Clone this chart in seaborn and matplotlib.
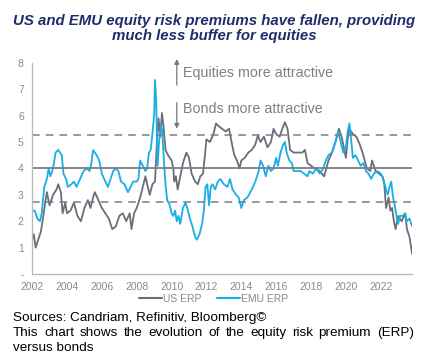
import pandas as pd
import matplotlib.pyplot as plt
import seaborn as sns

# US equity risk premium
us_years = [2002.0, 2002.1, 2002.2, 2002.35, 2002.5, 2002.6, 2002.75, 2002.85, 2003.0, 2003.2,
            2003.4, 2003.5, 2003.65, 2003.75, 2003.9, 2004.0, 2004.2, 2004.4, 2004.6, 2004.8,
            2005.0, 2005.2, 2005.35, 2005.5, 2005.6, 2005.8, 2006.0, 2006.2, 2006.4, 2006.6,
            2006.8, 2007.0, 2007.2, 2007.4, 2007.6, 2007.7, 2007.85, 2008.0, 2008.2, 2008.35,
            2008.5, 2008.6, 2008.75, 2008.9, 2009.05, 2009.15, 2009.25, 2009.35, 2009.45, 2009.55,
            2009.65, 2009.8, 2010.0, 2010.1, 2010.15, 2010.25, 2010.35, 2010.5, 2010.65, 2010.85,
            2011.0, 2011.15, 2011.35, 2011.5, 2011.65, 2011.8, 2011.9, 2012.0, 2012.2, 2012.4,
            2012.55, 2012.7, 2012.9, 2013.1, 2013.3, 2013.5, 2013.6, 2013.75, 2013.9, 2014.0,
            2014.2, 2014.4, 2014.6, 2014.8, 2014.95, 2015.1, 2015.3, 2015.5, 2015.7, 2015.85,
            2016.0, 2016.2, 2016.35, 2016.5, 2016.65, 2016.8, 2017.0, 2017.3, 2017.5, 2017.65,
            2017.8, 2018.0, 2018.2, 2018.5, 2018.75, 2019.0, 2019.2, 2019.4, 2019.6, 2019.75,
            2019.85, 2020.0, 2020.1, 2020.2, 2020.4, 2020.6, 2020.8, 2021.0, 2021.2, 2021.4,
            2021.5, 2021.7, 2021.9, 2022.1, 2022.2, 2022.3, 2022.45, 2022.55, 2022.65, 2022.75,
            2022.85, 2023.0, 2023.2, 2023.4, 2023.5, 2023.65, 2023.8]
us_erp = [1.3, 1.5, 1.0, 1.3, 1.6, 2.0, 2.7, 3.1, 2.6, 3.0,
          3.2, 3.4, 3.1, 2.3, 2.7, 2.3, 2.4, 2.7, 2.2, 2.0,
          2.5, 2.8, 2.5, 2.9, 3.1, 2.8, 2.5, 2.3, 2.1, 1.7,
          1.8, 2.2, 2.3, 2.0, 2.3, 1.7, 2.3, 2.5, 2.9, 3.3,
          3.7, 3.4, 3.0, 3.4, 3.5, 4.9, 5.9, 5.2, 6.1, 5.5,
          4.7, 4.5, 4.3, 4.0, 3.5, 3.7, 3.2, 3.7, 4.2, 4.6,
          4.4, 3.8, 3.5, 3.4, 3.7, 3.8, 4.4, 5.1, 5.0, 5.3,
          5.7, 5.6, 5.5, 5.4, 5.5, 4.8, 4.5, 4.3, 4.0, 4.3,
          4.4, 4.6, 4.7, 4.9, 5.25, 5.0, 5.2, 4.8, 5.0, 5.5,
          5.3, 5.2, 5.5, 5.75, 5.5, 4.7, 4.6, 4.6, 4.6, 4.7,
          4.2, 4.1, 4.0, 3.9, 3.7, 4.3, 4.6, 5.0, 5.5, 5.2,
          4.9, 4.4, 5.1, 5.5, 5.3, 5.2, 4.9, 4.5, 4.0, 3.9,
          4.3, 3.9, 3.8, 3.7, 3.4, 2.5, 2.9, 2.4, 2.5, 2.0,
          1.7, 2.2, 2.0, 2.3, 1.7, 1.4, 0.75]

# EMU equity risk premium
emu_years = [2002.0, 2002.15, 2002.3, 2002.45, 2002.55, 2002.7, 2002.85, 2002.95, 2003.05, 2003.2,
             2003.35, 2003.5, 2003.7, 2003.8, 2003.95, 2004.05, 2004.25, 2004.4, 2004.55, 2004.75,
             2004.95, 2005.15, 2005.3, 2005.4, 2005.5, 2005.7, 2005.85, 2006.0, 2006.2, 2006.35,
             2006.5, 2006.65, 2006.8, 2006.95, 2007.1, 2007.3, 2007.5, 2007.65, 2007.8, 2008.0,
             2008.1, 2008.2, 2008.35, 2008.5, 2008.6, 2008.7, 2008.8, 2008.9, 2009.0, 2009.05,
             2009.12, 2009.2, 2009.28, 2009.38, 2009.45, 2009.55, 2009.65, 2009.75, 2009.9, 2010.0,
             2010.1, 2010.2, 2010.3, 2010.4, 2010.5, 2010.65, 2010.8, 2010.9, 2011.05, 2011.2,
             2011.35, 2011.45, 2011.6, 2011.75, 2011.85, 2011.95, 2012.05, 2012.15, 2012.25, 2012.35,
             2012.5, 2012.65, 2012.8, 2013.0, 2013.2, 2013.35, 2013.5, 2013.7, 2013.85, 2014.0,
             2014.15, 2014.35, 2014.6, 2014.8, 2015.0, 2015.1, 2015.25, 2015.4, 2015.55, 2015.7,
             2015.85, 2016.0, 2016.1, 2016.25, 2016.4, 2016.5, 2016.6, 2016.75, 2016.9, 2017.0,
             2017.2, 2017.4, 2017.6, 2017.8, 2017.9, 2018.1, 2018.3, 2018.5, 2018.7, 2018.85,
             2019.0, 2019.2, 2019.4, 2019.55, 2019.7, 2019.85, 2020.0, 2020.1, 2020.2, 2020.3,
             2020.4, 2020.55, 2020.7, 2020.85, 2021.0, 2021.15, 2021.3, 2021.45, 2021.6, 2021.8,
             2022.0, 2022.15, 2022.3, 2022.4, 2022.5, 2022.6, 2022.7, 2022.8, 2022.9, 2023.0,
             2023.1, 2023.25, 2023.4, 2023.5, 2023.65, 2023.8]
emu_erp = [2.4, 2.4, 2.1, 2.0, 2.3, 3.3, 3.6, 4.0, 3.7, 4.0,
           4.6, 4.7, 4.5, 3.8, 3.6, 3.3, 3.4, 3.5, 3.3, 3.6,
           3.9, 4.0, 3.9, 4.2, 4.7, 4.5, 4.3, 3.8, 3.5, 3.3,
           3.6, 3.9, 4.0, 3.9, 3.5, 3.4, 3.1, 3.3, 3.5, 3.5,
           3.6, 4.3, 4.1, 3.9, 4.0, 4.6, 4.7, 5.3, 6.0, 7.35,
           6.5, 4.1, 5.0, 5.6, 5.5, 4.4, 3.4, 2.8, 2.6, 2.3,
           2.2, 2.4, 2.0, 2.2, 1.9, 2.5, 2.7, 2.5, 2.1, 1.8,
           1.4, 1.3, 1.5, 1.9, 2.4, 3.3, 3.4, 2.6, 3.3, 3.4,
           3.2, 3.5, 3.6, 3.4, 3.3, 3.6, 3.2, 3.0, 2.9, 2.5,
           2.8, 2.9, 3.2, 3.5, 3.9, 4.3, 4.1, 3.7, 4.1, 3.9,
           4.0, 4.4, 4.1, 4.6, 4.9, 5.0, 4.6, 4.3, 4.2, 3.9,
           3.9, 3.9, 3.8, 3.7, 3.9, 3.8, 4.0, 3.8, 4.0, 4.3,
           4.5, 4.6, 5.0, 5.4, 5.0, 4.6, 4.8, 5.4, 5.7, 5.1,
           4.4, 4.5, 4.3, 4.1, 4.2, 3.9, 3.8, 3.6, 3.8, 3.9,
           3.8, 3.6, 3.2, 3.0, 3.3, 3.5, 2.9, 2.6, 2.2, 1.9,
           2.2, 2.2, 2.3, 2.0, 2.1, 1.8]

mean_level = 4.0
upper_band = 5.25
lower_band = 2.72
year_ticks = list(range(2002, 2023, 2))
y_ticks = list(range(0, 9))
y_labels = ['-'] + [str(v) for v in range(1, 9)]

GREY = '#6b6e78'
BLUE = '#1aaee6'
TICK = '#8a8a8a'

df = pd.concat([
    pd.DataFrame({'year': us_years, 'erp': us_erp, 'series': 'US ERP'}),
    pd.DataFrame({'year': emu_years, 'erp': emu_erp, 'series': 'EMU ERP'}),
])

sns.set_style('white')
plt.rcParams['font.family'] = ['Liberation Sans', 'DejaVu Sans']

fig = plt.figure(figsize=(4.28, 3.61), dpi=100)
ax = fig.add_axes([0.075, 0.241, 0.888, 0.585])

sns.lineplot(data=df, x='year', y='erp', hue='series', sort=False,
             palette={'US ERP': GREY, 'EMU ERP': BLUE}, linewidth=1.3,
             estimator=None, ax=ax, legend=False)

ax.axhline(mean_level, color='#7a7d86', lw=1.3)
ax.axhline(upper_band, color='#7a7d86', lw=1.1, ls=(0, (5, 4)))
ax.axhline(lower_band, color='#7a7d86', lw=1.1, ls=(0, (5, 4)))

ax.set_xlim(2002, 2023.8)
ax.set_ylim(0, 8)
ax.set_xticks(year_ticks)
ax.set_yticks(y_ticks)
ax.set_yticklabels(y_labels)
ax.tick_params(axis='both', labelsize=7.5, colors=TICK, length=0, pad=6)
ax.set_xlabel('')
ax.set_ylabel('')
for side in ['top', 'right']:
    ax.spines[side].set_visible(False)
for side in ['left', 'bottom']:
    ax.spines[side].set_color('#b8b8b8')
    ax.spines[side].set_linewidth(0.9)

# arrows and annotations
ax.annotate('', xy=(2010.3, 8.25), xytext=(2010.3, 7.05),
            arrowprops=dict(arrowstyle='-|>', color='#777777', lw=0.9, mutation_scale=7),
            annotation_clip=False)
ax.annotate('', xy=(2010.3, 5.4), xytext=(2010.3, 6.6),
            arrowprops=dict(arrowstyle='-|>', color='#777777', lw=0.9, mutation_scale=7))
ax.text(2010.65, 7.6, 'Equities more attractive', fontsize=10.3, color='#7f7f7f', va='center')
ax.text(2010.65, 6.25, 'Bonds more attractive', fontsize=10.3, color='#7f7f7f', va='center')

# legend
handles = [plt.Line2D([], [], color=GREY, lw=1.5), plt.Line2D([], [], color=BLUE, lw=1.5)]
fig.legend(handles, ['US ERP', 'EMU ERP'], loc='center', bbox_to_anchor=(0.5, 0.173),
           ncol=2, frameon=False, fontsize=7.5, labelcolor=TICK,
           handlelength=2.2, handletextpad=0.1, columnspacing=1.5)

fig.text(0.5, 0.922, 'US and EMU equity risk premiums have fallen, providing\nmuch less buffer for equities',
         ha='center', va='center', fontsize=10.8, fontweight='bold', fontstyle='italic',
         color='#1f2d6b', linespacing=1.1)

FOOT = 9.7
fig.text(0.03, 0.118, 'Sources: Candriam, Refinitiv, Bloomberg©', fontsize=FOOT, color='black', va='center')

# justified second line of the note
words = 'This chart shows the evolution of the equity risk premium (ERP)'.split()
left, right = 0.03, 0.967
renderer = fig.canvas.get_renderer()
pieces = [fig.text(0, 0.077, w, fontsize=FOOT, color='black', va='center') for w in words]
widths = [p.get_window_extent(renderer).width / fig.bbox.width for p in pieces]
gap = (right - left - sum(widths)) / (len(words) - 1)
x = left
for p, w in zip(pieces, widths):
    p.set_x(x)
    x += w + gap
fig.text(0.03, 0.036, 'versus bonds', fontsize=FOOT, color='black', va='center')

fig.savefig('out.png', dpi=100)
